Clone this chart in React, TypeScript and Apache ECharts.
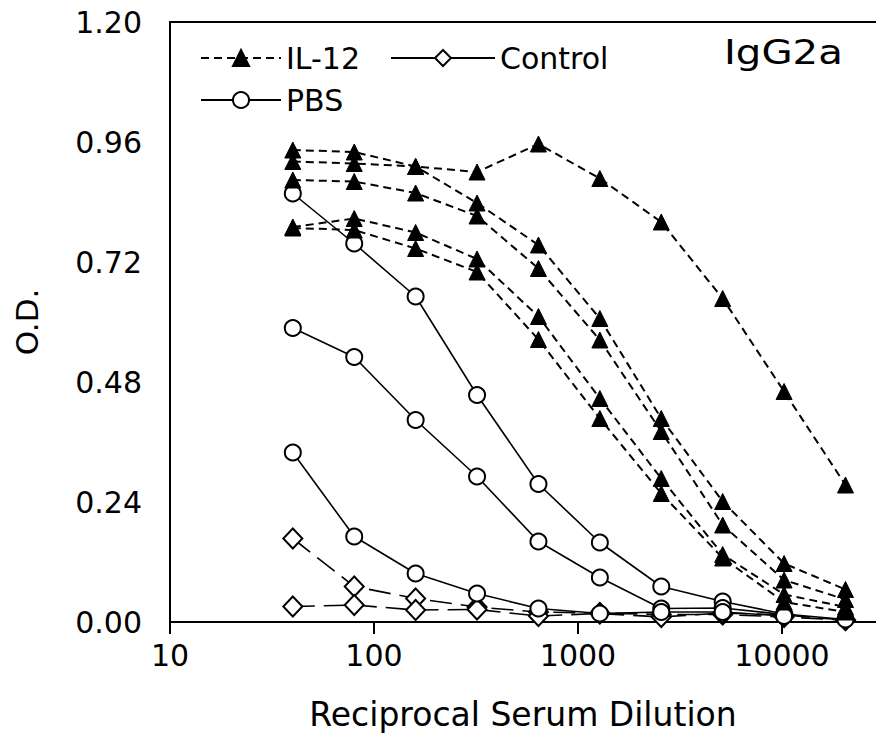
import React, { useEffect, useRef } from "react";
import * as echarts from "echarts";

// Reciprocal serum dilutions (x)
const dilutions = [40, 80, 160, 320, 640, 1280, 2560, 5120, 10240, 20480];

// IL-12 (filled triangles, dashed)
const il12A = [0.944, 0.94, 0.911, 0.9, 0.956, 0.887, 0.8, 0.647, 0.461, 0.274];
const il12B = [0.921, 0.917, 0.911, 0.838, 0.754, 0.607, 0.407, 0.241, 0.117, 0.065];
const il12C = [0.884, 0.881, 0.858, 0.812, 0.707, 0.564, 0.381, 0.194, 0.084, 0.045];
const il12D = [0.79, 0.807, 0.779, 0.726, 0.611, 0.447, 0.287, 0.135, 0.055, 0.03];
const il12E = [0.788, 0.784, 0.747, 0.7, 0.565, 0.407, 0.257, 0.128, 0.04, 0.02];

// PBS (open circles, solid)
const pbsA = [0.857, 0.757, 0.651, 0.454, 0.276, 0.159, 0.071, 0.041, 0.016, 0.005];
const pbsB = [0.588, 0.53, 0.404, 0.291, 0.161, 0.089, 0.027, 0.028, 0.015];
const pbsC = [0.339, 0.171, 0.097, 0.057, 0.027, 0.017, 0.02, 0.02, 0.012];

// Control (open diamonds, long dashes)
const ctrlA = [0.167, 0.071, 0.047, 0.03, 0.02, 0.018, 0.015, 0.015, 0.01, 0.004];
const ctrlB = [0.031, 0.034, 0.024, 0.025, 0.012, 0.017, 0.01, 0.018, 0.014, 0.004];

const yTicks = { min: 0, max: 1.2, interval: 0.24 };
const xRange = { min: 10, max: 28900 };

const FONT = "DejaVu Sans";

function pairs(vals: number[]) {
  return vals.map((v, i) => [dilutions[i], v]);
}

export default function App() {
  const ref = useRef<HTMLDivElement>(null);
  useEffect(() => {
    if (!ref.current) return;
    const chart = echarts.init(ref.current, undefined, { renderer: "svg" });

    const il12Series = [il12A, il12B, il12C, il12D, il12E].map((vals) => ({
      name: "IL-12",
      type: "line",
      data: pairs(vals),
      symbol: "triangle",
      symbolSize: [16, 16],
      itemStyle: { color: "#000", borderColor: "#000", borderWidth: 1 },
      lineStyle: { color: "#000", width: 2, type: [8, 5] },
      z: 4,
    }));
    const pbsSeries = [pbsA, pbsB, pbsC].map((vals) => ({
      name: "PBS",
      type: "line",
      data: pairs(vals),
      symbol: "circle",
      symbolSize: 16,
      itemStyle: { color: "#fff", borderColor: "#000", borderWidth: 2 },
      lineStyle: { color: "#000", width: 1.6, type: "solid" },
      z: 3,
    }));
    const ctrlSeries = [ctrlA, ctrlB].map((vals) => ({
      name: "Control",
      type: "line",
      data: pairs(vals),
      symbol: "diamond",
      symbolSize: [19, 20],
      itemStyle: { color: "#fff", borderColor: "#000", borderWidth: 2 },
      lineStyle: { color: "#000", width: 1.6, type: [22, 9] },
      z: 2,
    }));

    const legendText = { fontFamily: FONT, fontSize: 30, color: "#000" };
    const legendBase = {
      itemHeight: 20,
      selectedMode: false,
      textStyle: legendText,
      lineStyle: { width: 2 },
    };

    chart.setOption({
      animation: false,
      backgroundColor: "#fff",
      grid: { left: 170, right: 0, top: 22, bottom: 114, show: false },
      legend: [
        { ...legendBase, data: ["IL-12"], left: 195, top: 38, itemWidth: 80 },
        {
          ...legendBase,
          data: [{ name: "Control", lineStyle: { type: "solid", width: 2 } }],
          left: 385,
          top: 38,
          itemWidth: 104,
        },
        { ...legendBase, data: ["PBS"], left: 195, top: 80, itemWidth: 80 },
      ],
      graphic: [
        {
          type: "text",
          x: 724,
          y: 36,
          scaleX: 1.22,
          style: { text: "IgG2a", fontFamily: FONT, fontSize: 33, fill: "#000" },
        },
      ],
      xAxis: [
        {
          type: "log",
          logBase: 10,
          min: xRange.min,
          max: xRange.max,
          name: "Reciprocal Serum Dilution",
          nameLocation: "middle",
          nameGap: 76,
          nameTextStyle: { fontFamily: FONT, fontSize: 33, color: "#000" },
          axisLine: { show: true, lineStyle: { color: "#000", width: 2 } },
          axisTick: { show: true, inside: false, length: 12, lineStyle: { color: "#000", width: 2 } },
          axisLabel: {
            margin: 18,
            fontFamily: FONT,
            fontSize: 30,
            color: "#000",
            showMaxLabel: false,
            formatter: (v: number) => {
              const l = Math.log10(v);
              return Math.abs(l - Math.round(l)) < 1e-6 ? String(Math.round(v)) : "";
            },
          },
          splitLine: { show: false },
        },
        {
          type: "log",
          logBase: 10,
          min: xRange.min,
          max: xRange.max,
          position: "top",
          axisLine: { show: true, lineStyle: { color: "#000", width: 2 } },
          axisTick: { show: false },
          axisLabel: { show: false },
          splitLine: { show: false },
        },
      ],
      yAxis: {
        type: "value",
        min: yTicks.min,
        max: yTicks.max,
        interval: yTicks.interval,
        name: "O.D.",
        nameLocation: "middle",
        nameGap: 128,
        nameTextStyle: { fontFamily: FONT, fontSize: 31, color: "#000" },
        axisLine: { show: true, lineStyle: { color: "#000", width: 2 } },
        axisTick: { show: false },
        axisLabel: {
          margin: 28,
          fontFamily: FONT,
          fontSize: 30,
          color: "#000",
          formatter: (v: number) => v.toFixed(2),
        },
        splitLine: { show: false },
      },
      series: [...ctrlSeries, ...pbsSeries, ...il12Series],
    });
    return () => chart.dispose();
  }, []);
  return (
    <div
      ref={ref}
      style={{ position: "absolute", left: 0, top: 0, width: 876, height: 736, background: "#fff" }}
    />
  );
}
